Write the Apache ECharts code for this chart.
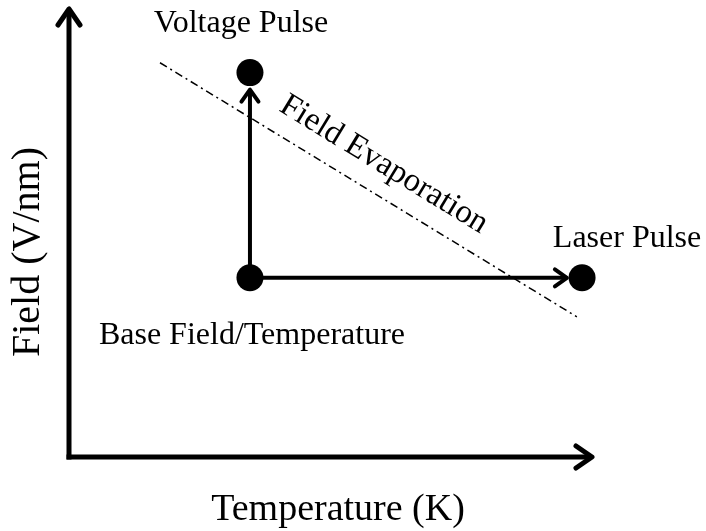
<!DOCTYPE html>
<html>
<head>
<meta charset="utf-8">
<script src="https://cdn.jsdelivr.net/npm/echarts@6/dist/echarts.min.js"></script>
<style>
  html, body { margin: 0; padding: 0; background: #fff; }
  #main { width: 706px; height: 531px; }
</style>
</head>
<body>
<div id="main"></div>
<script>
// schematic units, both axes run 0..10
var axisMax = 10;

// the three states
var pointNames = ['Voltage Pulse', 'Base Field/Temperature', 'Laser Pulse'];
var pointX = [3.46, 3.46, 9.81];
var pointY = [8.58, 4.0, 4.0];

// arrows from the base state (tips stop short of the dots)
var arrowStartX = [3.46, 3.46];
var arrowStartY = [4.0, 4.0];
var arrowEndX = [3.46, 9.52];
var arrowEndY = [8.2, 4.0];

// field evaporation threshold line
var evapX = [1.74, 9.71];
var evapY = [8.8, 3.13];

var FONT = '"Liberation Serif", "Times New Roman", serif';

var myChart = echarts.init(document.getElementById('main'));

// draws a shaft + open chevron head
function arrowRenderer(lineW, headLen, headHalf, extendStart) {
    return function (params, api) {
        var a = api.coord([api.value(0), api.value(1)]);
        var b = api.coord([api.value(2), api.value(3)]);
        var dx = b[0] - a[0], dy = b[1] - a[1];
        var len = Math.sqrt(dx * dx + dy * dy);
        var ux = dx / len, uy = dy / len;
        var nx = -uy, ny = ux;
        var s = extendStart ? lineW / 2 : 0;
        var bx = b[0] - ux * headLen, by = b[1] - uy * headLen;
        return {
            type: 'group',
            children: [{
                type: 'line',
                shape: { x1: a[0] - ux * s, y1: a[1] - uy * s, x2: b[0] - ux * 2, y2: b[1] - uy * 2 },
                style: { stroke: '#000', lineWidth: lineW }
            }, {
                type: 'polyline',
                shape: { points: [[bx + nx * headHalf, by + ny * headHalf], [b[0], b[1]], [bx - nx * headHalf, by - ny * headHalf]] },
                style: { stroke: '#000', fill: null, lineWidth: lineW, lineJoin: 'round', lineCap: 'round' }
            }]
        };
    };
}

var axisArrows = [[0, 0, axisMax, 0], [0, 0, 0, axisMax]];
var flowArrows = arrowStartX.map(function (x, i) {
    return [x, arrowStartY[i], arrowEndX[i], arrowEndY[i]];
});

var labelOffsets = [[-9, -49], [2, 58], [45, -39]];
var points = pointNames.map(function (n, i) {
    return {
        name: n,
        value: [pointX[i], pointY[i]],
        label: { offset: labelOffsets[i] }
    };
});

myChart.setOption({
    animation: false,
    grid: { left: 69, right: 114, top: 9, bottom: 74 },
    xAxis: { type: 'value', min: 0, max: axisMax, show: false },
    yAxis: { type: 'value', min: 0, max: axisMax, show: false },
    graphic: [{
        type: 'text',
        x: 338, y: 510,
        style: { text: 'Temperature (K)', font: '38px ' + FONT, fill: '#000', align: 'center', verticalAlign: 'middle' }
    }, {
        type: 'text',
        x: 28, y: 252,
        rotation: Math.PI / 2,
        style: { text: 'Field (V/nm)', font: '40px ' + FONT, fill: '#000', align: 'center', verticalAlign: 'middle' }
    }],
    series: [{
        type: 'custom',
        renderItem: arrowRenderer(5, 16, 11, true),
        data: axisArrows,
        silent: true
    }, {
        type: 'custom',
        renderItem: arrowRenderer(4, 12, 8.5, false),
        data: flowArrows,
        silent: true
    }, {
        type: 'scatter',
        symbolSize: 27,
        silent: true,
        itemStyle: { color: '#000', opacity: 1 },
        label: {
            show: true,
            position: 'inside',
            formatter: '{b}',
            color: '#000',
            opacity: 1,
            fontFamily: FONT,
            fontSize: 32
        },
        data: points,
        markLine: {
            silent: true,
            symbol: ['none', 'none'],
            lineStyle: { color: '#000', width: 1.5, opacity: 1, type: [8, 4, 2, 4] },
            label: {
                show: true,
                position: 'middle',
                formatter: 'Field Evaporation',
                distance: 13,
                color: '#000',
                fontFamily: FONT,
                fontSize: 33
            },
            data: [[{ coord: [evapX[0], evapY[0]] }, { coord: [evapX[1], evapY[1]] }]]
        }
    }]
});
</script>
</body>
</html>
